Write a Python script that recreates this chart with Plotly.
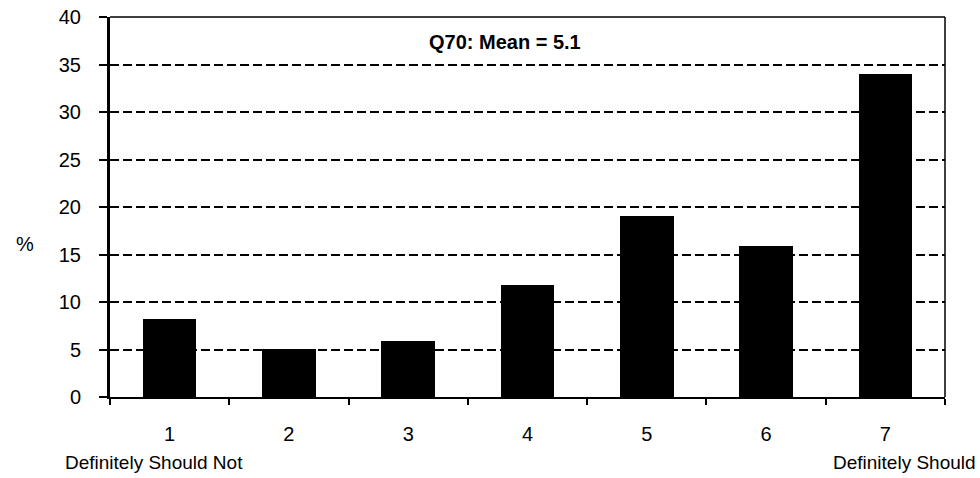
import plotly.graph_objects as go

categories = [1, 2, 3, 4, 5, 6, 7]
percent = [8.2, 5.1, 5.9, 11.8, 19.1, 15.9, 34.0]
y_ticks = [0, 5, 10, 15, 20, 25, 30, 35, 40]
end_labels = ["Definitely Should Not", "Definitely Should"]
title_text = "Q70: Mean = 5.1"
y_label = "%"

FONT = "Liberation Sans, Arial, sans-serif"
FS = 20

fig = go.Figure()
fig.add_trace(go.Bar(
    x=categories, y=percent, width=0.45,
    marker=dict(color="black", line=dict(width=0)),
))

fig.update_layout(
    width=980, height=478,
    margin=dict(l=110, r=35, t=17, b=81, autoexpand=False),
    paper_bgcolor="white", plot_bgcolor="white",
    showlegend=False,
    font=dict(family=FONT, size=FS, color="black"),
    bargap=0,
    xaxis=dict(
        range=[0.5, 7.5], tickmode="array", tickvals=categories,
        ticktext=[str(c) for c in categories],
        ticks="outside", ticklen=0, tickcolor="white",
        ticklabelstandoff=18,
        showgrid=False, zeroline=False,
        showline=True, linecolor="black", linewidth=2,
        minor=dict(tick0=0.5, dtick=1, ticks="outside", ticklen=6,
                   tickcolor="black", tickwidth=2, showgrid=False),
        tickfont=dict(size=FS),
    ),
    yaxis=dict(
        range=[0, 40], tickmode="array", tickvals=y_ticks,
        ticks="outside", ticklen=8, tickwidth=2, tickcolor="black",
        ticklabelstandoff=14,
        showgrid=True, gridcolor="black", gridwidth=1.8, griddash="9px,4px",
        zeroline=False,
        showline=True, linecolor="black", linewidth=3,
        tickfont=dict(size=FS),
    ),
)

# top and right frame
fig.add_shape(type="line", xref="paper", yref="paper", x0=0, x1=1, y0=1, y1=1,
              line=dict(color="black", width=1.5))
fig.add_shape(type="line", xref="paper", yref="paper", x0=1, x1=1, y0=0, y1=1,
              line=dict(color="black", width=1.5))

fig.add_annotation(text="<b>" + title_text + "</b>", xref="paper", yref="paper",
                   x=0.473, y=0.935, xanchor="center", yanchor="middle",
                   showarrow=False, font=dict(size=FS))
fig.add_annotation(text=y_label, xref="paper", yref="paper",
                   x=-0.102, y=0.402, xanchor="center", yanchor="middle",
                   showarrow=False, font=dict(size=FS))
fig.add_annotation(text=end_labels[0], xref="paper", yref="paper",
                   x=-0.056, y=-0.172, xanchor="left", yanchor="middle",
                   showarrow=False, font=dict(size=FS - 1))
fig.add_annotation(text=end_labels[1], xref="paper", yref="paper",
                   x=1.04, y=-0.172, xanchor="right", yanchor="middle",
                   showarrow=False, font=dict(size=FS - 1))

fig.write_html("out.html")
